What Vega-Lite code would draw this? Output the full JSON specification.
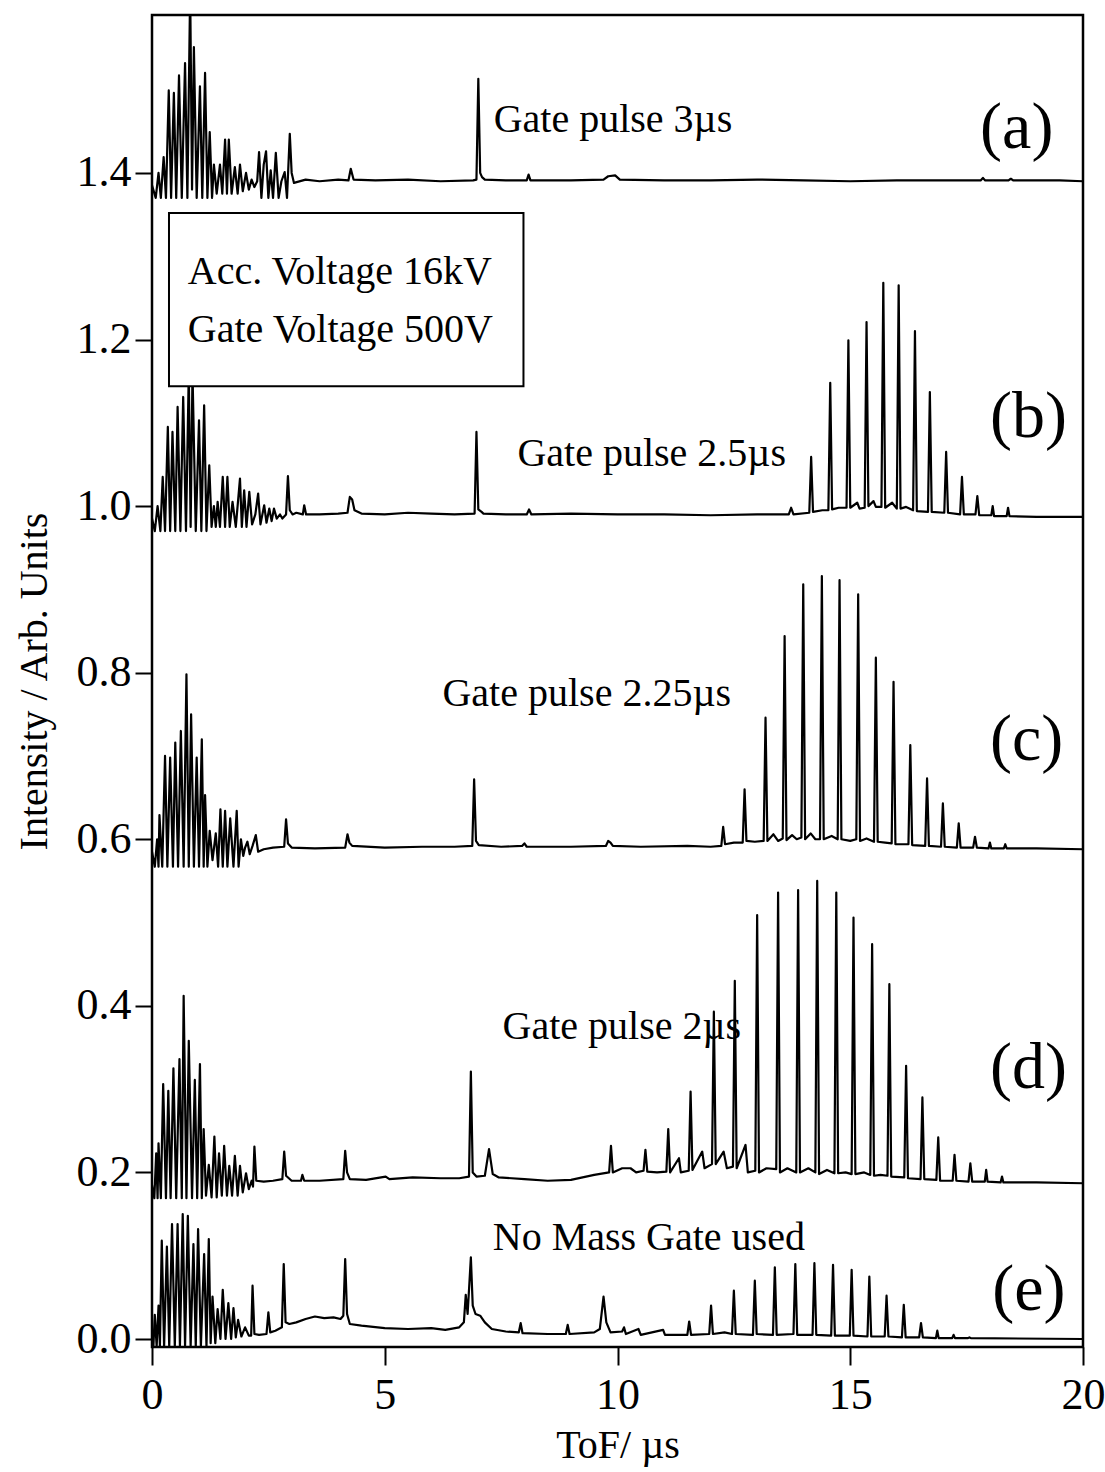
{
"$schema":"https://vega.github.io/schema/vega-lite/v6.json",
"width":931,"height":1332,
"autosize":{"type":"none"},
"padding":{"left":152,"top":15,"right":22,"bottom":125},
"background":"white",
"config":{"view":{"stroke":"black","strokeWidth":2.5},"axis":{"grid":false,"domain":false,"tickColor":"black","tickWidth":2,"labelColor":"black","titleColor":"black","labelFont":"Liberation Serif","titleFont":"Liberation Serif","titleFontWeight":"normal"}},
"datasets":{
"spec":[
{"s":"a","t":0.00,"v":1.385},{"s":"a","t":0.08,"v":1.37},{"s":"a","t":0.14,"v":1.40},{"s":"a","t":0.19,"v":1.37},{"s":"a","t":0.25,"v":1.419},{"s":"a","t":0.30,"v":1.37},{"s":"a","t":0.36,"v":1.499},{"s":"a","t":0.41,"v":1.37},{"s":"a","t":0.47,"v":1.496},{"s":"a","t":0.52,"v":1.37},{"s":"a","t":0.58,"v":1.517},{"s":"a","t":0.64,"v":1.37},{"s":"a","t":0.71,"v":1.532},{"s":"a","t":0.76,"v":1.37},{"s":"a","t":0.82,"v":1.62},{"s":"a","t":0.86,"v":1.38},{"s":"a","t":0.90,"v":1.551},{"s":"a","t":0.96,"v":1.37},{"s":"a","t":1.03,"v":1.504},{"s":"a","t":1.08,"v":1.37},{"s":"a","t":1.14,"v":1.520},{"s":"a","t":1.19,"v":1.37},{"s":"a","t":1.24,"v":1.449},{"s":"a","t":1.29,"v":1.37},{"s":"a","t":1.33,"v":1.410},{"s":"a","t":1.39,"v":1.375},{"s":"a","t":1.46,"v":1.410},{"s":"a","t":1.51,"v":1.375},{"s":"a","t":1.57,"v":1.44},{"s":"a","t":1.61,"v":1.375},{"s":"a","t":1.65,"v":1.44},{"s":"a","t":1.71,"v":1.375},{"s":"a","t":1.78,"v":1.407},{"s":"a","t":1.84,"v":1.375},{"s":"a","t":1.89,"v":1.410},{"s":"a","t":1.95,"v":1.378},{"s":"a","t":2.02,"v":1.400},{"s":"a","t":2.08,"v":1.38},{"s":"a","t":2.14,"v":1.392},{"s":"a","t":2.20,"v":1.383},{"s":"a","t":2.26,"v":1.39},{"s":"a","t":2.30,"v":1.425},{"s":"a","t":2.35,"v":1.37},{"s":"a","t":2.40,"v":1.41},{"s":"a","t":2.45,"v":1.426},{"s":"a","t":2.50,"v":1.37},{"s":"a","t":2.55,"v":1.403},{"s":"a","t":2.60,"v":1.37},{"s":"a","t":2.66,"v":1.424},{"s":"a","t":2.72,"v":1.37},{"s":"a","t":2.78,"v":1.39},{"s":"a","t":2.85,"v":1.401},{"s":"a","t":2.90,"v":1.37},{"s":"a","t":2.96,"v":1.447},{"s":"a","t":3.00,"v":1.40},{"s":"a","t":3.05,"v":1.388},{"s":"a","t":3.3,"v":1.392},{"s":"a","t":3.6,"v":1.39},{"s":"a","t":4.0,"v":1.392},{"s":"a","t":4.22,"v":1.391},{"s":"a","t":4.27,"v":1.405},{"s":"a","t":4.33,"v":1.392},{"s":"a","t":4.8,"v":1.391},{"s":"a","t":5.5,"v":1.392},{"s":"a","t":6.2,"v":1.39},{"s":"a","t":6.9,"v":1.391},{"s":"a","t":6.97,"v":1.392},{"s":"a","t":7.01,"v":1.513},{"s":"a","t":7.05,"v":1.40},{"s":"a","t":7.09,"v":1.395},{"s":"a","t":7.15,"v":1.392},{"s":"a","t":7.6,"v":1.391},{"s":"a","t":8.05,"v":1.391},{"s":"a","t":8.09,"v":1.398},{"s":"a","t":8.13,"v":1.391},{"s":"a","t":9.0,"v":1.391},{"s":"a","t":9.7,"v":1.392},{"s":"a","t":9.8,"v":1.396},{"s":"a","t":9.95,"v":1.397},{"s":"a","t":10.05,"v":1.392},{"s":"a","t":11,"v":1.391},{"s":"a","t":12,"v":1.391},{"s":"a","t":13,"v":1.392},{"s":"a","t":14,"v":1.391},{"s":"a","t":15,"v":1.39},{"s":"a","t":16,"v":1.391},{"s":"a","t":17,"v":1.391},{"s":"a","t":17.8,"v":1.391},{"s":"a","t":17.85,"v":1.394},{"s":"a","t":17.9,"v":1.391},{"s":"a","t":18.4,"v":1.391},{"s":"a","t":18.45,"v":1.393},{"s":"a","t":18.5,"v":1.391},{"s":"a","t":19.5,"v":1.391},{"s":"a","t":20,"v":1.39},
{"s":"b","t":0.00,"v":0.985},{"s":"b","t":0.06,"v":0.97},{"s":"b","t":0.12,"v":1.0},{"s":"b","t":0.18,"v":0.97},{"s":"b","t":0.23,"v":1.035},{"s":"b","t":0.28,"v":0.97},{"s":"b","t":0.34,"v":1.095},{"s":"b","t":0.39,"v":0.97},{"s":"b","t":0.44,"v":1.089},{"s":"b","t":0.50,"v":0.97},{"s":"b","t":0.55,"v":1.119},{"s":"b","t":0.61,"v":0.97},{"s":"b","t":0.67,"v":1.131},{"s":"b","t":0.73,"v":0.97},{"s":"b","t":0.79,"v":1.16},{"s":"b","t":0.83,"v":0.975},{"s":"b","t":0.87,"v":1.16},{"s":"b","t":0.94,"v":0.97},{"s":"b","t":1.01,"v":1.103},{"s":"b","t":1.06,"v":0.97},{"s":"b","t":1.12,"v":1.121},{"s":"b","t":1.17,"v":0.97},{"s":"b","t":1.23,"v":1.049},{"s":"b","t":1.28,"v":0.975},{"s":"b","t":1.33,"v":1.0},{"s":"b","t":1.37,"v":0.975},{"s":"b","t":1.41,"v":1.005},{"s":"b","t":1.46,"v":0.975},{"s":"b","t":1.52,"v":1.035},{"s":"b","t":1.57,"v":0.975},{"s":"b","t":1.62,"v":1.035},{"s":"b","t":1.67,"v":0.975},{"s":"b","t":1.73,"v":1.005},{"s":"b","t":1.80,"v":0.975},{"s":"b","t":1.89,"v":1.033},{"s":"b","t":1.93,"v":0.975},{"s":"b","t":1.98,"v":1.019},{"s":"b","t":2.03,"v":0.975},{"s":"b","t":2.09,"v":1.017},{"s":"b","t":2.15,"v":0.978},{"s":"b","t":2.22,"v":0.99},{"s":"b","t":2.28,"v":1.015},{"s":"b","t":2.33,"v":0.978},{"s":"b","t":2.41,"v":1.001},{"s":"b","t":2.46,"v":0.98},{"s":"b","t":2.52,"v":0.997},{"s":"b","t":2.57,"v":0.982},{"s":"b","t":2.62,"v":0.997},{"s":"b","t":2.68,"v":0.985},{"s":"b","t":2.75,"v":0.99},{"s":"b","t":2.80,"v":0.985},{"s":"b","t":2.88,"v":0.99},{"s":"b","t":2.92,"v":1.036},{"s":"b","t":2.96,"v":0.995},{"s":"b","t":3.02,"v":0.99},{"s":"b","t":3.10,"v":0.992},{"s":"b","t":3.24,"v":0.99},{"s":"b","t":3.27,"v":1.001},{"s":"b","t":3.31,"v":0.99},{"s":"b","t":3.6,"v":0.99},{"s":"b","t":4.0,"v":0.991},{"s":"b","t":4.2,"v":0.992},{"s":"b","t":4.25,"v":1.011},{"s":"b","t":4.30,"v":1.008},{"s":"b","t":4.35,"v":0.995},{"s":"b","t":4.5,"v":0.991},{"s":"b","t":5.0,"v":0.99},{"s":"b","t":5.5,"v":0.992},{"s":"b","t":6.0,"v":0.991},{"s":"b","t":6.5,"v":0.99},{"s":"b","t":6.93,"v":0.991},{"s":"b","t":6.97,"v":1.089},{"s":"b","t":7.01,"v":0.996},{"s":"b","t":7.08,"v":0.993},{"s":"b","t":7.12,"v":0.991},{"s":"b","t":7.6,"v":0.99},{"s":"b","t":8.05,"v":0.99},{"s":"b","t":8.1,"v":0.996},{"s":"b","t":8.15,"v":0.99},{"s":"b","t":9.0,"v":0.991},{"s":"b","t":10,"v":0.99},{"s":"b","t":11,"v":0.99},{"s":"b","t":12,"v":0.989},{"s":"b","t":13,"v":0.99},{"s":"b","t":13.68,"v":0.99},{"s":"b","t":13.73,"v":0.998},{"s":"b","t":13.78,"v":0.99},{"s":"b","t":14.12,"v":0.992},{"s":"b","t":14.16,"v":1.059},{"s":"b","t":14.20,"v":0.993},{"s":"b","t":14.40,"v":0.995},{"s":"b","t":14.53,"v":0.995},{"s":"b","t":14.57,"v":1.148},{"s":"b","t":14.61,"v":0.996},{"s":"b","t":14.75,"v":0.998},{"s":"b","t":14.92,"v":0.998},{"s":"b","t":14.96,"v":1.199},{"s":"b","t":15.00,"v":0.998},{"s":"b","t":15.15,"v":1.004},{"s":"b","t":15.2,"v":0.997},{"s":"b","t":15.31,"v":0.998},{"s":"b","t":15.35,"v":1.221},{"s":"b","t":15.39,"v":1.0},{"s":"b","t":15.5,"v":1.006},{"s":"b","t":15.55,"v":0.999},{"s":"b","t":15.67,"v":0.999},{"s":"b","t":15.71,"v":1.268},{"s":"b","t":15.75,"v":0.998},{"s":"b","t":15.9,"v":1.004},{"s":"b","t":16.00,"v":0.997},{"s":"b","t":16.04,"v":1.265},{"s":"b","t":16.08,"v":0.997},{"s":"b","t":16.2,"v":0.999},{"s":"b","t":16.35,"v":0.995},{"s":"b","t":16.39,"v":1.210},{"s":"b","t":16.43,"v":0.994},{"s":"b","t":16.67,"v":0.993},{"s":"b","t":16.71,"v":1.137},{"s":"b","t":16.75,"v":0.993},{"s":"b","t":17.02,"v":0.992},{"s":"b","t":17.06,"v":1.065},{"s":"b","t":17.10,"v":0.992},{"s":"b","t":17.36,"v":0.99},{"s":"b","t":17.40,"v":1.035},{"s":"b","t":17.44,"v":0.99},{"s":"b","t":17.69,"v":0.99},{"s":"b","t":17.73,"v":1.012},{"s":"b","t":17.77,"v":0.989},{"s":"b","t":18.03,"v":0.989},{"s":"b","t":18.06,"v":1.0},{"s":"b","t":18.09,"v":0.988},{"s":"b","t":18.36,"v":0.988},{"s":"b","t":18.39,"v":0.998},{"s":"b","t":18.42,"v":0.988},{"s":"b","t":19,"v":0.987},{"s":"b","t":20,"v":0.987},
{"s":"c","t":0.00,"v":0.585},{"s":"c","t":0.06,"v":0.567},{"s":"c","t":0.11,"v":0.60},{"s":"c","t":0.14,"v":0.567},{"s":"c","t":0.16,"v":0.629},{"s":"c","t":0.22,"v":0.567},{"s":"c","t":0.28,"v":0.700},{"s":"c","t":0.33,"v":0.567},{"s":"c","t":0.39,"v":0.698},{"s":"c","t":0.45,"v":0.567},{"s":"c","t":0.50,"v":0.716},{"s":"c","t":0.56,"v":0.567},{"s":"c","t":0.62,"v":0.730},{"s":"c","t":0.68,"v":0.567},{"s":"c","t":0.74,"v":0.798},{"s":"c","t":0.79,"v":0.567},{"s":"c","t":0.84,"v":0.750},{"s":"c","t":0.90,"v":0.567},{"s":"c","t":0.96,"v":0.698},{"s":"c","t":1.01,"v":0.567},{"s":"c","t":1.07,"v":0.720},{"s":"c","t":1.11,"v":0.567},{"s":"c","t":1.14,"v":0.653},{"s":"c","t":1.19,"v":0.567},{"s":"c","t":1.24,"v":0.610},{"s":"c","t":1.30,"v":0.575},{"s":"c","t":1.37,"v":0.607},{"s":"c","t":1.42,"v":0.567},{"s":"c","t":1.47,"v":0.636},{"s":"c","t":1.52,"v":0.567},{"s":"c","t":1.57,"v":0.634},{"s":"c","t":1.62,"v":0.567},{"s":"c","t":1.68,"v":0.625},{"s":"c","t":1.75,"v":0.567},{"s":"c","t":1.82,"v":0.634},{"s":"c","t":1.86,"v":0.567},{"s":"c","t":1.91,"v":0.600},{"s":"c","t":1.96,"v":0.580},{"s":"c","t":2.00,"v":0.59},{"s":"c","t":2.05,"v":0.597},{"s":"c","t":2.10,"v":0.582},{"s":"c","t":2.16,"v":0.592},{"s":"c","t":2.23,"v":0.605},{"s":"c","t":2.28,"v":0.585},{"s":"c","t":2.4,"v":0.588},{"s":"c","t":2.6,"v":0.59},{"s":"c","t":2.84,"v":0.591},{"s":"c","t":2.88,"v":0.624},{"s":"c","t":2.92,"v":0.595},{"s":"c","t":3.0,"v":0.59},{"s":"c","t":3.5,"v":0.589},{"s":"c","t":4.15,"v":0.59},{"s":"c","t":4.20,"v":0.606},{"s":"c","t":4.24,"v":0.596},{"s":"c","t":4.3,"v":0.592},{"s":"c","t":5.0,"v":0.59},{"s":"c","t":5.8,"v":0.591},{"s":"c","t":6.5,"v":0.591},{"s":"c","t":6.88,"v":0.592},{"s":"c","t":6.92,"v":0.672},{"s":"c","t":6.96,"v":0.598},{"s":"c","t":7.02,"v":0.593},{"s":"c","t":7.5,"v":0.591},{"s":"c","t":7.95,"v":0.592},{"s":"c","t":8.0,"v":0.595},{"s":"c","t":8.05,"v":0.591},{"s":"c","t":9.0,"v":0.591},{"s":"c","t":9.75,"v":0.592},{"s":"c","t":9.8,"v":0.598},{"s":"c","t":9.85,"v":0.596},{"s":"c","t":9.9,"v":0.592},{"s":"c","t":10.5,"v":0.591},{"s":"c","t":11.5,"v":0.592},{"s":"c","t":12.0,"v":0.591},{"s":"c","t":12.23,"v":0.592},{"s":"c","t":12.27,"v":0.615},{"s":"c","t":12.31,"v":0.594},{"s":"c","t":12.5,"v":0.596},{"s":"c","t":12.69,"v":0.596},{"s":"c","t":12.73,"v":0.660},{"s":"c","t":12.77,"v":0.598},{"s":"c","t":12.95,"v":0.597},{"s":"c","t":13.14,"v":0.598},{"s":"c","t":13.18,"v":0.746},{"s":"c","t":13.22,"v":0.598},{"s":"c","t":13.35,"v":0.606},{"s":"c","t":13.45,"v":0.598},{"s":"c","t":13.55,"v":0.601},{"s":"c","t":13.59,"v":0.844},{"s":"c","t":13.63,"v":0.599},{"s":"c","t":13.75,"v":0.605},{"s":"c","t":13.85,"v":0.6},{"s":"c","t":13.95,"v":0.602},{"s":"c","t":13.99,"v":0.906},{"s":"c","t":14.03,"v":0.6},{"s":"c","t":14.15,"v":0.607},{"s":"c","t":14.25,"v":0.6},{"s":"c","t":14.35,"v":0.60},{"s":"c","t":14.39,"v":0.916},{"s":"c","t":14.43,"v":0.6},{"s":"c","t":14.6,"v":0.604},{"s":"c","t":14.73,"v":0.6},{"s":"c","t":14.77,"v":0.911},{"s":"c","t":14.81,"v":0.6},{"s":"c","t":15.0,"v":0.598},{"s":"c","t":15.13,"v":0.6},{"s":"c","t":15.17,"v":0.894},{"s":"c","t":15.21,"v":0.598},{"s":"c","t":15.35,"v":0.601},{"s":"c","t":15.51,"v":0.597},{"s":"c","t":15.55,"v":0.818},{"s":"c","t":15.59,"v":0.597},{"s":"c","t":15.75,"v":0.596},{"s":"c","t":15.89,"v":0.595},{"s":"c","t":15.93,"v":0.789},{"s":"c","t":15.97,"v":0.594},{"s":"c","t":16.25,"v":0.594},{"s":"c","t":16.29,"v":0.713},{"s":"c","t":16.33,"v":0.593},{"s":"c","t":16.61,"v":0.592},{"s":"c","t":16.65,"v":0.673},{"s":"c","t":16.69,"v":0.592},{"s":"c","t":16.95,"v":0.591},{"s":"c","t":16.99,"v":0.643},{"s":"c","t":17.03,"v":0.591},{"s":"c","t":17.29,"v":0.59},{"s":"c","t":17.33,"v":0.619},{"s":"c","t":17.37,"v":0.59},{"s":"c","t":17.64,"v":0.59},{"s":"c","t":17.68,"v":0.603},{"s":"c","t":17.72,"v":0.59},{"s":"c","t":17.97,"v":0.589},{"s":"c","t":18.0,"v":0.596},{"s":"c","t":18.03,"v":0.589},{"s":"c","t":18.30,"v":0.589},{"s":"c","t":18.33,"v":0.594},{"s":"c","t":18.36,"v":0.589},{"s":"c","t":19,"v":0.589},{"s":"c","t":20,"v":0.588},
{"s":"d","t":0.00,"v":0.185},{"s":"d","t":0.05,"v":0.169},{"s":"d","t":0.09,"v":0.223},{"s":"d","t":0.12,"v":0.169},{"s":"d","t":0.14,"v":0.235},{"s":"d","t":0.19,"v":0.169},{"s":"d","t":0.24,"v":0.306},{"s":"d","t":0.30,"v":0.169},{"s":"d","t":0.35,"v":0.298},{"s":"d","t":0.40,"v":0.169},{"s":"d","t":0.46,"v":0.325},{"s":"d","t":0.52,"v":0.169},{"s":"d","t":0.59,"v":0.336},{"s":"d","t":0.64,"v":0.169},{"s":"d","t":0.68,"v":0.412},{"s":"d","t":0.74,"v":0.169},{"s":"d","t":0.79,"v":0.358},{"s":"d","t":0.86,"v":0.169},{"s":"d","t":0.92,"v":0.311},{"s":"d","t":0.97,"v":0.169},{"s":"d","t":1.03,"v":0.330},{"s":"d","t":1.07,"v":0.169},{"s":"d","t":1.11,"v":0.252},{"s":"d","t":1.16,"v":0.172},{"s":"d","t":1.22,"v":0.209},{"s":"d","t":1.28,"v":0.17},{"s":"d","t":1.34,"v":0.243},{"s":"d","t":1.39,"v":0.17},{"s":"d","t":1.44,"v":0.223},{"s":"d","t":1.50,"v":0.172},{"s":"d","t":1.55,"v":0.232},{"s":"d","t":1.61,"v":0.172},{"s":"d","t":1.66,"v":0.208},{"s":"d","t":1.72,"v":0.172},{"s":"d","t":1.78,"v":0.220},{"s":"d","t":1.84,"v":0.172},{"s":"d","t":1.89,"v":0.208},{"s":"d","t":1.95,"v":0.176},{"s":"d","t":2.02,"v":0.199},{"s":"d","t":2.08,"v":0.18},{"s":"d","t":2.14,"v":0.19},{"s":"d","t":2.17,"v":0.183},{"s":"d","t":2.20,"v":0.231},{"s":"d","t":2.24,"v":0.19},{"s":"d","t":2.4,"v":0.189},{"s":"d","t":2.6,"v":0.19},{"s":"d","t":2.80,"v":0.192},{"s":"d","t":2.84,"v":0.225},{"s":"d","t":2.88,"v":0.196},{"s":"d","t":3.0,"v":0.19},{"s":"d","t":3.2,"v":0.19},{"s":"d","t":3.23,"v":0.197},{"s":"d","t":3.27,"v":0.19},{"s":"d","t":3.6,"v":0.19},{"s":"d","t":4.11,"v":0.192},{"s":"d","t":4.15,"v":0.226},{"s":"d","t":4.19,"v":0.2},{"s":"d","t":4.25,"v":0.192},{"s":"d","t":4.6,"v":0.191},{"s":"d","t":5.02,"v":0.195},{"s":"d","t":5.1,"v":0.192},{"s":"d","t":5.6,"v":0.194},{"s":"d","t":6.2,"v":0.193},{"s":"d","t":6.6,"v":0.193},{"s":"d","t":6.81,"v":0.195},{"s":"d","t":6.85,"v":0.321},{"s":"d","t":6.89,"v":0.2},{"s":"d","t":6.97,"v":0.195},{"s":"d","t":7.15,"v":0.196},{"s":"d","t":7.24,"v":0.228},{"s":"d","t":7.32,"v":0.198},{"s":"d","t":7.45,"v":0.194},{"s":"d","t":8,"v":0.192},{"s":"d","t":8.5,"v":0.19},{"s":"d","t":9.0,"v":0.191},{"s":"d","t":9.5,"v":0.197},{"s":"d","t":9.82,"v":0.2},{"s":"d","t":9.86,"v":0.232},{"s":"d","t":9.90,"v":0.2},{"s":"d","t":10.1,"v":0.205},{"s":"d","t":10.28,"v":0.205},{"s":"d","t":10.4,"v":0.2},{"s":"d","t":10.56,"v":0.202},{"s":"d","t":10.60,"v":0.227},{"s":"d","t":10.64,"v":0.201},{"s":"d","t":10.85,"v":0.2},{"s":"d","t":11.05,"v":0.201},{"s":"d","t":11.09,"v":0.252},{"s":"d","t":11.13,"v":0.2},{"s":"d","t":11.32,"v":0.217},{"s":"d","t":11.36,"v":0.2},{"s":"d","t":11.53,"v":0.202},{"s":"d","t":11.57,"v":0.297},{"s":"d","t":11.61,"v":0.203},{"s":"d","t":11.82,"v":0.225},{"s":"d","t":11.87,"v":0.205},{"s":"d","t":12.03,"v":0.21},{"s":"d","t":12.07,"v":0.393},{"s":"d","t":12.11,"v":0.21},{"s":"d","t":12.28,"v":0.225},{"s":"d","t":12.35,"v":0.205},{"s":"d","t":12.48,"v":0.207},{"s":"d","t":12.52,"v":0.43},{"s":"d","t":12.56,"v":0.205},{"s":"d","t":12.75,"v":0.233},{"s":"d","t":12.8,"v":0.2},{"s":"d","t":12.96,"v":0.202},{"s":"d","t":13.00,"v":0.509},{"s":"d","t":13.04,"v":0.2},{"s":"d","t":13.2,"v":0.205},{"s":"d","t":13.41,"v":0.204},{"s":"d","t":13.45,"v":0.536},{"s":"d","t":13.49,"v":0.2},{"s":"d","t":13.65,"v":0.205},{"s":"d","t":13.84,"v":0.2},{"s":"d","t":13.88,"v":0.539},{"s":"d","t":13.92,"v":0.2},{"s":"d","t":14.1,"v":0.205},{"s":"d","t":14.25,"v":0.2},{"s":"d","t":14.29,"v":0.550},{"s":"d","t":14.33,"v":0.198},{"s":"d","t":14.5,"v":0.203},{"s":"d","t":14.66,"v":0.199},{"s":"d","t":14.70,"v":0.536},{"s":"d","t":14.74,"v":0.199},{"s":"d","t":14.9,"v":0.2},{"s":"d","t":15.03,"v":0.198},{"s":"d","t":15.07,"v":0.506},{"s":"d","t":15.11,"v":0.198},{"s":"d","t":15.3,"v":0.2},{"s":"d","t":15.43,"v":0.197},{"s":"d","t":15.47,"v":0.474},{"s":"d","t":15.51,"v":0.196},{"s":"d","t":15.65,"v":0.197},{"s":"d","t":15.80,"v":0.196},{"s":"d","t":15.84,"v":0.426},{"s":"d","t":15.88,"v":0.195},{"s":"d","t":16.16,"v":0.194},{"s":"d","t":16.20,"v":0.328},{"s":"d","t":16.24,"v":0.193},{"s":"d","t":16.51,"v":0.192},{"s":"d","t":16.55,"v":0.290},{"s":"d","t":16.59,"v":0.192},{"s":"d","t":16.85,"v":0.191},{"s":"d","t":16.89,"v":0.242},{"s":"d","t":16.93,"v":0.19},{"s":"d","t":17.20,"v":0.19},{"s":"d","t":17.24,"v":0.221},{"s":"d","t":17.28,"v":0.19},{"s":"d","t":17.54,"v":0.189},{"s":"d","t":17.58,"v":0.211},{"s":"d","t":17.62,"v":0.189},{"s":"d","t":17.89,"v":0.189},{"s":"d","t":17.92,"v":0.203},{"s":"d","t":17.95,"v":0.189},{"s":"d","t":18.23,"v":0.188},{"s":"d","t":18.26,"v":0.195},{"s":"d","t":18.29,"v":0.188},{"s":"d","t":19,"v":0.188},{"s":"d","t":20,"v":0.187},
{"s":"e","t":0.00,"v":0.0},{"s":"e","t":0.03,"v":-0.009},{"s":"e","t":0.06,"v":0.029},{"s":"e","t":0.10,"v":-0.009},{"s":"e","t":0.14,"v":0.04},{"s":"e","t":0.17,"v":-0.009},{"s":"e","t":0.21,"v":0.118},{"s":"e","t":0.26,"v":-0.009},{"s":"e","t":0.32,"v":0.111},{"s":"e","t":0.37,"v":-0.009},{"s":"e","t":0.43,"v":0.138},{"s":"e","t":0.49,"v":-0.009},{"s":"e","t":0.55,"v":0.138},{"s":"e","t":0.60,"v":-0.009},{"s":"e","t":0.66,"v":0.150},{"s":"e","t":0.71,"v":-0.009},{"s":"e","t":0.77,"v":0.148},{"s":"e","t":0.83,"v":-0.009},{"s":"e","t":0.89,"v":0.114},{"s":"e","t":0.94,"v":-0.009},{"s":"e","t":0.99,"v":0.132},{"s":"e","t":1.05,"v":-0.009},{"s":"e","t":1.12,"v":0.102},{"s":"e","t":1.17,"v":-0.009},{"s":"e","t":1.22,"v":0.120},{"s":"e","t":1.26,"v":-0.005},{"s":"e","t":1.30,"v":0.051},{"s":"e","t":1.36,"v":-0.005},{"s":"e","t":1.41,"v":0.036},{"s":"e","t":1.47,"v":0.0},{"s":"e","t":1.52,"v":0.059},{"s":"e","t":1.58,"v":0.0},{"s":"e","t":1.64,"v":0.043},{"s":"e","t":1.70,"v":0.0},{"s":"e","t":1.75,"v":0.037},{"s":"e","t":1.80,"v":0.002},{"s":"e","t":1.85,"v":0.023},{"s":"e","t":1.92,"v":0.003},{"s":"e","t":2.00,"v":0.014},{"s":"e","t":2.08,"v":0.004},{"s":"e","t":2.13,"v":0.004},{"s":"e","t":2.16,"v":0.064},{"s":"e","t":2.20,"v":0.006},{"s":"e","t":2.3,"v":0.005},{"s":"e","t":2.46,"v":0.006},{"s":"e","t":2.50,"v":0.032},{"s":"e","t":2.54,"v":0.008},{"s":"e","t":2.65,"v":0.01},{"s":"e","t":2.79,"v":0.014},{"s":"e","t":2.83,"v":0.090},{"s":"e","t":2.87,"v":0.02},{"s":"e","t":2.95,"v":0.018},{"s":"e","t":3.1,"v":0.02},{"s":"e","t":3.3,"v":0.024},{"s":"e","t":3.5,"v":0.027},{"s":"e","t":3.7,"v":0.025},{"s":"e","t":3.9,"v":0.026},{"s":"e","t":4.05,"v":0.024},{"s":"e","t":4.11,"v":0.028},{"s":"e","t":4.15,"v":0.096},{"s":"e","t":4.19,"v":0.03},{"s":"e","t":4.25,"v":0.018},{"s":"e","t":4.5,"v":0.016},{"s":"e","t":5.0,"v":0.013},{"s":"e","t":5.5,"v":0.012},{"s":"e","t":6.0,"v":0.013},{"s":"e","t":6.3,"v":0.011},{"s":"e","t":6.6,"v":0.014},{"s":"e","t":6.70,"v":0.02},{"s":"e","t":6.74,"v":0.053},{"s":"e","t":6.78,"v":0.03},{"s":"e","t":6.85,"v":0.098},{"s":"e","t":6.89,"v":0.04},{"s":"e","t":6.95,"v":0.03},{"s":"e","t":7.05,"v":0.028},{"s":"e","t":7.15,"v":0.02},{"s":"e","t":7.3,"v":0.012},{"s":"e","t":7.6,"v":0.009},{"s":"e","t":7.88,"v":0.008},{"s":"e","t":7.92,"v":0.019},{"s":"e","t":7.96,"v":0.007},{"s":"e","t":8.5,"v":0.006},{"s":"e","t":8.89,"v":0.006},{"s":"e","t":8.93,"v":0.017},{"s":"e","t":8.97,"v":0.006},{"s":"e","t":9.5,"v":0.008},{"s":"e","t":9.62,"v":0.012},{"s":"e","t":9.70,"v":0.051},{"s":"e","t":9.76,"v":0.02},{"s":"e","t":9.85,"v":0.008},{"s":"e","t":10.1,"v":0.009},{"s":"e","t":10.14,"v":0.014},{"s":"e","t":10.18,"v":0.006},{"s":"e","t":10.45,"v":0.012},{"s":"e","t":10.5,"v":0.005},{"s":"e","t":10.98,"v":0.011},{"s":"e","t":11.02,"v":0.005},{"s":"e","t":11.5,"v":0.005},{"s":"e","t":11.54,"v":0.021},{"s":"e","t":11.58,"v":0.005},{"s":"e","t":11.97,"v":0.006},{"s":"e","t":12.01,"v":0.040},{"s":"e","t":12.05,"v":0.006},{"s":"e","t":12.3,"v":0.008},{"s":"e","t":12.46,"v":0.006},{"s":"e","t":12.50,"v":0.058},{"s":"e","t":12.54,"v":0.006},{"s":"e","t":12.91,"v":0.005},{"s":"e","t":12.95,"v":0.070},{"s":"e","t":12.99,"v":0.006},{"s":"e","t":13.34,"v":0.005},{"s":"e","t":13.38,"v":0.086},{"s":"e","t":13.42,"v":0.005},{"s":"e","t":13.78,"v":0.006},{"s":"e","t":13.82,"v":0.090},{"s":"e","t":13.86,"v":0.005},{"s":"e","t":14.19,"v":0.005},{"s":"e","t":14.23,"v":0.091},{"s":"e","t":14.27,"v":0.005},{"s":"e","t":14.59,"v":0.004},{"s":"e","t":14.63,"v":0.089},{"s":"e","t":14.67,"v":0.004},{"s":"e","t":14.99,"v":0.004},{"s":"e","t":15.03,"v":0.083},{"s":"e","t":15.07,"v":0.004},{"s":"e","t":15.37,"v":0.003},{"s":"e","t":15.41,"v":0.075},{"s":"e","t":15.45,"v":0.003},{"s":"e","t":15.74,"v":0.003},{"s":"e","t":15.78,"v":0.052},{"s":"e","t":15.82,"v":0.003},{"s":"e","t":16.11,"v":0.002},{"s":"e","t":16.15,"v":0.041},{"s":"e","t":16.19,"v":0.002},{"s":"e","t":16.48,"v":0.002},{"s":"e","t":16.52,"v":0.019},{"s":"e","t":16.56,"v":0.002},{"s":"e","t":16.84,"v":0.001},{"s":"e","t":16.87,"v":0.010},{"s":"e","t":16.90,"v":0.001},{"s":"e","t":17.19,"v":0.001},{"s":"e","t":17.22,"v":0.005},{"s":"e","t":17.25,"v":0.001},{"s":"e","t":17.53,"v":0.001},{"s":"e","t":17.56,"v":0.002},{"s":"e","t":17.59,"v":0.001},{"s":"e","t":20,"v":0.0}
],
"ann":[
{"k":"g","label":"Gate pulse 3µs","t":7.34,"v":1.449},
{"k":"g","label":"Gate pulse 2.5µs","t":7.85,"v":1.048},
{"k":"g","label":"Gate pulse 2.25µs","t":6.24,"v":0.760},
{"k":"g","label":"Gate pulse 2µs","t":7.53,"v":0.360},
{"k":"g","label":"No Mass Gate used","t":7.32,"v":0.107},
{"k":"b","label":"Acc. Voltage 16kV","t":0.77,"v":1.281},
{"k":"b","label":"Gate Voltage 500V","t":0.77,"v":1.211},
{"k":"p","label":"(a)","t":17.79,"v":1.454},
{"k":"p","label":"(b)","t":18.0,"v":1.107},
{"k":"p","label":"(c)","t":18.0,"v":0.719},
{"k":"p","label":"(d)","t":18.0,"v":0.325},
{"k":"p","label":"(e)","t":18.05,"v":0.059}
],
"box":[{"t":0.365,"t2":7.98,"v":1.352,"v2":1.144}]
},
"encoding":{
"x":{"field":"t","type":"quantitative","scale":{"domain":[0,20],"nice":false,"zero":false},
"axis":{"values":[0,5,10,15,20],"tickSize":18,"labelFontSize":44,"labelPadding":8,"title":"ToF/ µs","titleFontSize":40,"titlePadding":8,"labelFlush":false}},
"y":{"field":"v","type":"quantitative","scale":{"domain":[-0.0096,1.5896],"nice":false,"zero":false},
"axis":{"values":[0,0.2,0.4,0.6,0.8,1.0,1.2,1.4],"format":".1f","tickSize":17,"labelFontSize":44,"labelPadding":4,"title":"Intensity / Arb. Units","titleFontSize":40,"titlePadding":22}}
},
"layer":[
{"data":{"name":"spec"},"mark":{"type":"line","color":"black","strokeWidth":2.2,"strokeJoin":"round","clip":true},
"encoding":{"detail":{"field":"s"},"order":{"field":"t","type":"quantitative"}}},
{"data":{"name":"box"},"mark":{"type":"rect","fill":"white","stroke":"black","strokeWidth":2},
"encoding":{"x2":{"field":"t2"},"y2":{"field":"v2"}}},
{"data":{"name":"ann"},"transform":[{"filter":"datum.k === 'g'"}],"mark":{"type":"text","align":"left","baseline":"alphabetic","font":"Liberation Serif","fontSize":40,"color":"black"},
"encoding":{"text":{"field":"label"}}},
{"data":{"name":"ann"},"transform":[{"filter":"datum.k === 'b'"}],"mark":{"type":"text","align":"left","baseline":"middle","font":"Liberation Serif","fontSize":40,"color":"black"},
"encoding":{"text":{"field":"label"}}},
{"data":{"name":"ann"},"transform":[{"filter":"datum.k === 'p'"}],"mark":{"type":"text","align":"left","baseline":"middle","font":"Liberation Serif","fontSize":66,"color":"black"},
"encoding":{"text":{"field":"label"}}}
]
}
